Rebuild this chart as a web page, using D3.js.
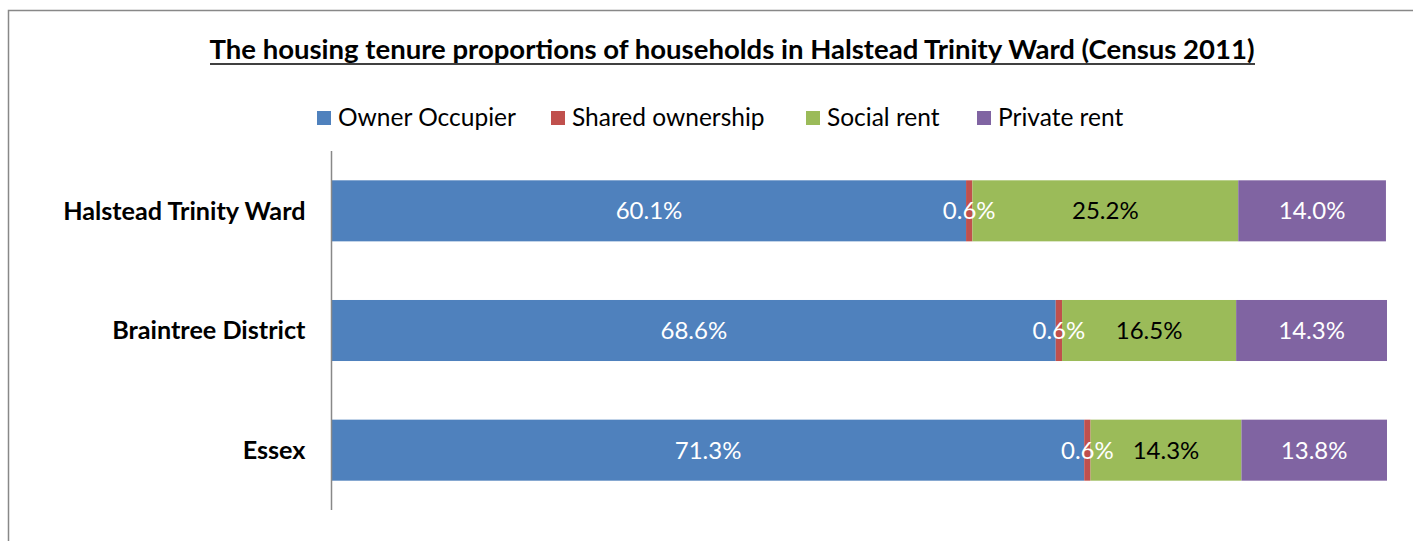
<!DOCTYPE html>
<html><head><meta charset="utf-8">
<script src="https://cdn.jsdelivr.net/npm/d3@7"></script>
<style>
html,body{margin:0;padding:0;background:#fff;}
svg{display:block;font-family:Lato,"Open Sans",sans-serif;}
</style></head>
<body>
<svg id="chart" width="1413" height="541"></svg>
<script>
const categories = ["Halstead Trinity Ward", "Braintree District", "Essex"];
const seriesNames = ["Owner Occupier", "Shared ownership", "Social rent", "Private rent"];
const ownerOccupier = [60.1, 68.6, 71.3];
const sharedOwnership = [0.6, 0.6, 0.6];
const socialRent = [25.2, 16.5, 14.3];
const privateRent = [14.0, 14.3, 13.8];
const colors = ["#4F81BD", "#C0504D", "#9BBB59", "#8064A2"];
const labelColors = ["#fff", "#fff", "#000", "#fff"];
const title = "The housing tenure proportions of households in Halstead Trinity Ward (Census 2011)";

const rows = categories.map((c, i) => ({
  cat: c,
  "Owner Occupier": ownerOccupier[i],
  "Shared ownership": sharedOwnership[i],
  "Social rent": socialRent[i],
  "Private rent": privateRent[i]
}));
const stack = d3.stack().keys(seriesNames)(rows);

const svg = d3.select("#chart");
// outer frame
svg.append("path").attr("d", "M8.5,541 V10.5 H1413").attr("fill", "none").attr("stroke", "#888").attr("stroke-width", 1.5);

const x = d3.scaleLinear().domain([0, 100]).range([332, 1387]);
const y = d3.scaleBand().domain(categories).range([151, 510]).paddingInner(0.49).paddingOuter(0.245);

// title
const t = svg.append("text").attr("x", 732).attr("y", 59).attr("text-anchor", "middle")
  .attr("font-size", 27.5).attr("font-weight", "bold").attr("fill", "#000")
  .attr("textLength", 1045).attr("lengthAdjust", "spacingAndGlyphs").text(title);
svg.append("line").attr("x1", 210).attr("x2", 1255).attr("y1", 64).attr("y2", 64)
  .attr("stroke", "#000").attr("stroke-width", 1.5);

// legend
const legendX = [317, 551, 806, 977];
const lg = svg.append("g").selectAll("g").data(seriesNames).join("g")
  .attr("transform", (d, i) => `translate(${legendX[i]},0)`);
lg.append("rect").attr("x", 0).attr("y", 111).attr("width", 14).attr("height", 14).attr("fill", (d, i) => colors[i]);
lg.append("text").attr("x", 21).attr("y", 126).attr("font-size", 24.5).attr("fill", "#000").text(d => d);

// bars
const g = svg.append("g");
stack.forEach((s, si) => {
  g.selectAll(null).data(s).join("rect")
    .attr("x", d => x(d[0])).attr("width", d => x(d[1]) - x(d[0]))
    .attr("y", d => y(d.data.cat)).attr("height", y.bandwidth())
    .attr("fill", colors[si]);
});
stack.forEach((s, si) => {
  g.selectAll(null).data(s).join("text")
    .attr("x", d => (x(d[0]) + x(d[1])) / 2)
    .attr("y", d => y(d.data.cat) + y.bandwidth() / 2 + 8.5)
    .attr("text-anchor", "middle").attr("font-size", 24).attr("fill", labelColors[si])
    .text(d => (d[1] - d[0]).toFixed(1) + "%");
});

// axis
const yAxis = d3.axisLeft(y).tickSize(0).tickPadding(26);
const ag = svg.append("g").attr("transform", "translate(331.5,0)").call(yAxis);
ag.select(".domain").attr("stroke", "#888").attr("stroke-width", 1.5).attr("d", "M0,151V510");
ag.selectAll("text").attr("font-size", 25.2).attr("font-weight", "bold").attr("fill", "#000")
  .attr("font-family", "Lato,'Open Sans',sans-serif").attr("dy", "0.35em");
</script>
</body></html>
